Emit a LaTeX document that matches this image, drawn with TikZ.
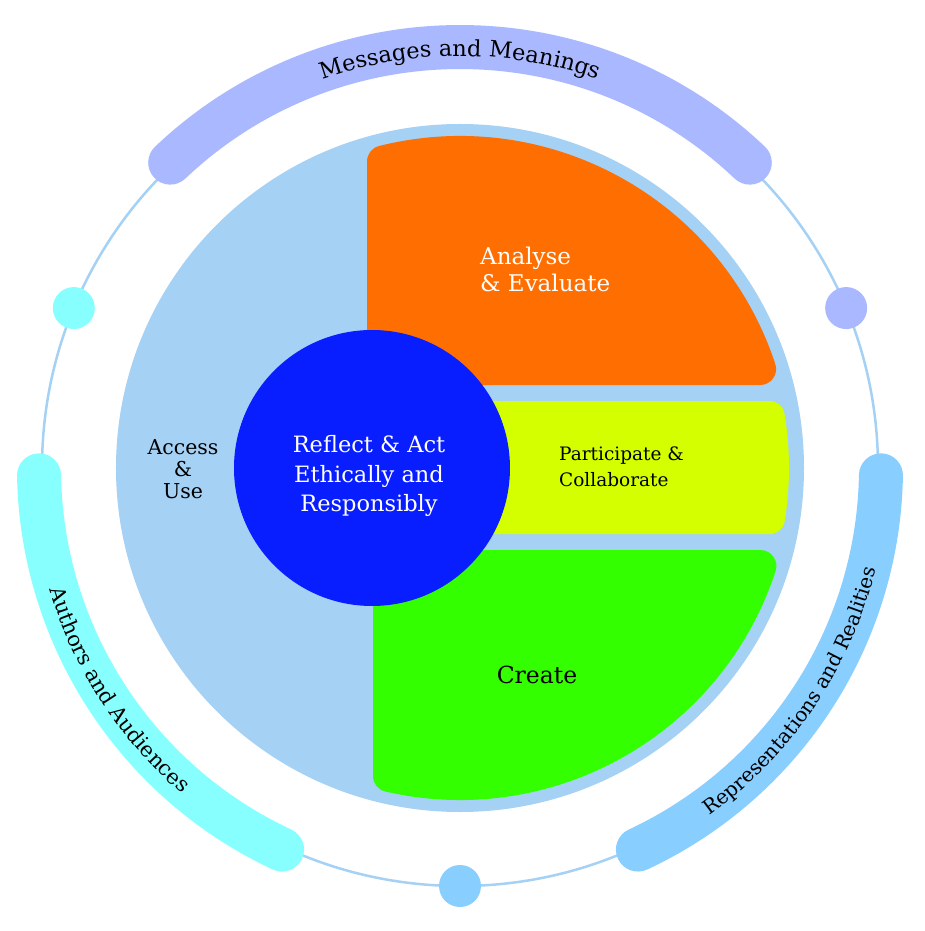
\documentclass[tikz,border=0pt]{standalone}
\usepackage{fontspec}
\setmainfont{DejaVu Serif}
\usetikzlibrary{decorations.text}
\definecolor{lbfill}{RGB}{165,209,245}
\definecolor{ringc}{RGB}{165,209,245}
\definecolor{orangec}{RGB}{255,110,0}
\definecolor{yellowc}{RGB}{212,255,0}
\definecolor{greenc}{RGB}{51,255,0}
\definecolor{bluec}{RGB}{8,30,255}
\definecolor{topband}{RGB}{170,185,255}
\definecolor{leftband}{RGB}{136,255,255}
\definecolor{rightband}{RGB}{136,206,255}
\newcommand\bandfontA{\fontsize{22.5}{22.5}\selectfont}
\newcommand\bandfontB{\fontsize{21}{21}\selectfont}
\newcommand\bandfontC{\fontsize{20}{20}\selectfont}
\tikzset{
  band/.style={line width=44pt, line cap=round},
  dot/.style={circle, minimum size=42pt, inner sep=0pt},
  region/.style={line width=#1, line join=round},
  bigtxt/.style={inner sep=0pt, font=\fontsize{22.5}{29.5}\selectfont},
  midtxt/.style={inner sep=0pt, font=\fontsize{18.5}{26}\selectfont},
  bandtext/.style 2 args={decorate, decoration={text along path, text align=center, text={|#1|#2}}},
}
\begin{document}
\begin{tikzpicture}[x=1pt,y=1pt]
\fill[white] (-460,-463) rectangle (465,468);
\useasboundingbox (-460,-463) rectangle (465,468);

% thin outer ring
\draw[ringc, line width=2.5pt] (0,0) circle[radius=418pt];

% bands
\draw[topband, band] (133.5:421pt) arc[start angle=133.5, end angle=46.5, radius=421pt];
\draw[leftband, band] (181:421pt) arc[start angle=181, end angle=245, radius=421pt];
\draw[rightband, band] (-65:421pt) arc[start angle=-65, end angle=-1, radius=421pt];

\path[bandtext={\bandfontA}{Messages and Meanings}] (133.5:412pt) arc[start angle=133.5, end angle=46.5, radius=412pt];
\path[bandtext={\bandfontB}{Authors and Audiences}] (181:428pt) arc[start angle=181, end angle=245, radius=428pt];
\path[bandtext={\bandfontC}{Representations and Realities}] (-66:428pt) arc[start angle=-66, end angle=-2, radius=428pt];

% small dots on ring
\node[dot, fill=leftband] (dl) at (157.5:418pt) {};
\node[dot, fill=topband] (dr) at (22.5:418pt) {};
\node[dot, fill=rightband] (db) at (270:418pt) {};

% main disc
\node[circle, fill=lbfill, minimum size=688pt, inner sep=0pt] (disc) at (0,0) {};

% orange (corner radius 16)
\filldraw[orangec, region=32pt] (-77,99) -- (104.10:316pt) arc[start angle=104.10, end angle=18.257, radius=316pt] -- cycle;
% yellow
\filldraw[yellowc, region=30pt] (15,-51) -- (15,52) -- (9.53:314pt) arc[start angle=9.53, end angle=-9.35, radius=314pt] -- cycle;
% green
\filldraw[greenc, region=32pt] (-71,-98) -- (-18.08:316pt) arc[start angle=-18.08, end angle=-102.98, radius=316pt] -- cycle;

% core
\node[circle, fill=bluec, minimum size=276pt, inner sep=0pt] (core) at (-88,0) {};

\node[bigtxt, text=white, align=center] (reflect) at (-91,-8) {Reflect \& Act\\Ethically and\\Responsibly};
\node[bigtxt, text=white, align=left, anchor=west, font=\fontsize{23}{27}\selectfont] (analyse) at (20,199) {Analyse\\\& Evaluate};
\node[midtxt, align=left, anchor=west] (particip) at (99,1) {Participate \&\\Collaborate};
\node[bigtxt, font=\fontsize{23.5}{28}\selectfont] (create) at (77,-207) {Create};
\node[midtxt, align=center, font=\fontsize{20.5}{22}\selectfont] (access) at (-277,-1) {Access\\\&\\Use};
\end{tikzpicture}
\end{document}
